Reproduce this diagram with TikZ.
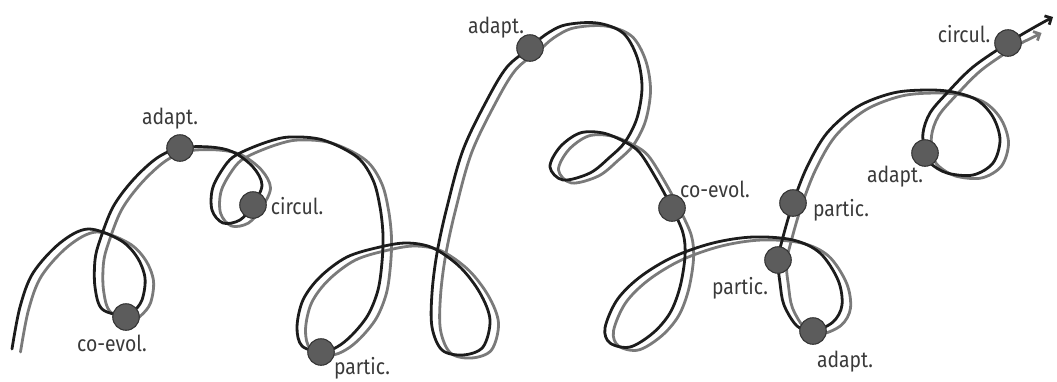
\documentclass[tikz,border=0pt]{standalone}
\usepackage{fontspec}
\setmainfont{Fira Sans}[FakeStretch=0.88]
\usetikzlibrary{arrows.meta}
\definecolor{linegray}{HTML}{7A7A7A}
\definecolor{lineblack}{HTML}{1C1C1C}
\definecolor{dotfill}{HTML}{5C5C5C}
\definecolor{dotedge}{HTML}{363636}
\definecolor{labelgray}{HTML}{3A3A3A}
\tikzset{
  curveblack/.style={draw=lineblack, line width=2.8pt, line cap=round, line join=round},
  curvegray/.style={draw=linegray, line width=2.8pt, line cap=round, line join=round},
  stagedot/.style={circle, fill=dotfill, draw=dotedge, line width=1.1pt, minimum size=26.5pt, inner sep=0pt},
  stagelabel/.style={text=labelgray, font=\fontsize{22}{23}\selectfont, inner sep=0pt}
}
\newcommand\loopcurve[2]{%
  \draw[#1] plot[smooth, tension=0.55] coordinates {
    (12,349) (20,307) (33,273) (60,243) (88,229) (120,240) (137,257) (145,278) (142,300) (133,312) (125,316)
    (102,309) (95,287) (95,260) (100,240) (113,207) (133,180) (157,158) (180,148)
    (210,147) (233,152) (253,167) (262,185) (253,205)
    (240,220) (223,223) (212,210) (213,187) (227,163) (240,153) (267,142) (290,137) (323,140) (357,157)
    (373,180) (380,207) (383,235) (382,262) (378,290) (368,315) (352,335) (337,347) (322,352)
    (302,346) (297,327) (303,300) (320,277) (347,257) (380,247) (407,243) (433,248) (460,267) (480,293)
    (490,320) (483,347) (463,355) (442,350) (432,327) (432,293) (437,253) (447,207) (463,150) (487,100) (507,67) (530,48)
    (545,35) (565,25) (597,23) (623,33) (637,57) (642,87) (637,118) (625,142) (610,157) (590,173) (563,180)
    (550,167) (560,147) (580,133) (603,133) (625,142) (640,153) (657,180) (672,208)
    (683,233) (685,256) (680,287) (670,313) (653,333) (630,347) (610,343) (605,328) (617,300) (640,277)
    (673,257) (713,243) (753,237) (793,240) (820,253) (838,280) (842,305) (833,322) (813,331)
    (797,326) (784,305) (780,283) (778,260) (783,237) (793,203)
    (807,167) (827,133) (857,107) (893,93) (927,90) (953,92) (977,100) (993,117) (1000,140) (993,163)
    (973,175) (947,173) (930,163) (925,153) (923,133) (930,113) (947,93) (973,67) (1008,43) #2};
}
\begin{document}
\begin{tikzpicture}[x=1pt, y=-1pt]
\useasboundingbox (0,0) rectangle (1057,381);
% gray shadow line
\begin{scope}[shift={(8.5,3)}]
\loopcurve{curvegray, -{Straight Barb[length=5pt, width=10pt]}}{(1021,36) (1033,30)}
\end{scope}
% black line
\loopcurve{curveblack, -{Straight Barb[length=5pt, width=10pt]}}{(1033,28) (1053,17)}
% dots
\node[stagedot] (d1) at (126,317) {};
\node[stagedot] (d2) at (180,148) {};
\node[stagedot] (d3) at (253,205) {};
\node[stagedot] (d4) at (321,352) {};
\node[stagedot] (d5) at (530,48) {};
\node[stagedot] (d6) at (672,208) {};
\node[stagedot] (d7) at (813,331) {};
\node[stagedot] (d8) at (778,260) {};
\node[stagedot] (d9) at (793,203) {};
\node[stagedot] (d10) at (925,153) {};
\node[stagedot] (d11) at (1008,43) {};
% labels
\node[stagelabel] (l1) at (112,343) {co-evol.};
\node[stagelabel] (l2) at (170,119) {adapt.};
\node[stagelabel] (l3) at (297,206) {circul.};
\node[stagelabel] (l4) at (362,368) {partic.};
\node[stagelabel] (l5) at (496,28) {adapt.};
\node[stagelabel] (l6) at (715,189) {co-evol.};
\node[stagelabel] (l7) at (740,288) {partic.};
\node[stagelabel] (l8) at (845,362) {adapt.};
\node[stagelabel] (l9) at (841,210) {partic.};
\node[stagelabel] (l10) at (895,177) {adapt.};
\node[stagelabel] (l11) at (964,34) {circul.};
\end{tikzpicture}
\end{document}
